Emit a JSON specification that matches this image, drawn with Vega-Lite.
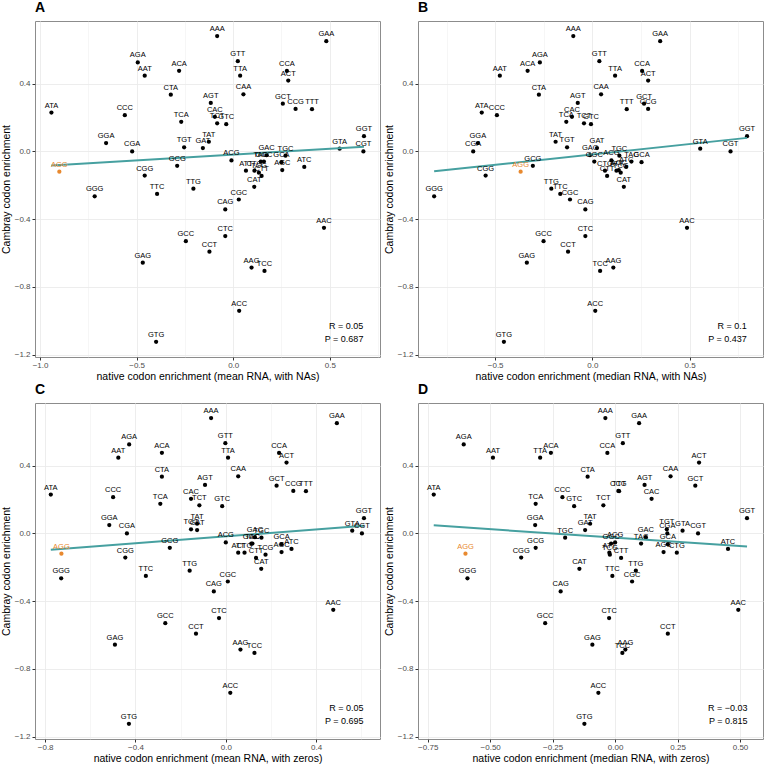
{
  "$schema": "https://vega.github.io/schema/vega-lite/v6.json",
  "padding": {"left": 0, "top": 0, "right": 0, "bottom": 0},
  "config": {
    "font": "Liberation Sans",
    "view": {"stroke": "#8c8c8c", "strokeWidth": 1},
    "axis": {"domain": false, "gridColor": "#ebebeb", "tickColor": "#333333", "tickSize": 3, "labelColor": "#4d4d4d", "labelFontSize": 8, "labelPadding": 2, "titleFontSize": 10.5, "titleFontWeight": "normal", "titleColor": "#000000", "titlePadding": 3},
    "axisX": {"labelPadding": 1, "titlePadding": 2},
    "title": {"fontSize": 14, "fontWeight": "bold", "anchor": "start", "frame": "group", "offset": 6}
  },
  "datasets": {
    "codons": [
      {"codon": "AAA", "cambray": 0.681, "mean_na": -0.083, "median_na": -0.098, "mean_zero": -0.065, "median_zero": -0.039},
      {"codon": "GAA", "cambray": 0.651, "mean_na": 0.482, "median_na": 0.349, "mean_zero": 0.492, "median_zero": 0.096},
      {"codon": "AGA", "cambray": 0.525, "mean_na": -0.494, "median_na": -0.27, "mean_zero": -0.428, "median_zero": -0.606},
      {"codon": "AAT", "cambray": 0.447, "mean_na": -0.458, "median_na": -0.476, "mean_zero": -0.476, "median_zero": -0.489},
      {"codon": "ACA", "cambray": 0.476, "mean_na": -0.28, "median_na": -0.333, "mean_zero": -0.283, "median_zero": -0.257},
      {"codon": "GTT", "cambray": 0.533, "mean_na": 0.024, "median_na": 0.036, "mean_zero": -0.002, "median_zero": 0.031},
      {"codon": "TTA", "cambray": 0.447, "mean_na": 0.036, "median_na": 0.117, "mean_zero": 0.01, "median_zero": -0.3},
      {"codon": "CCA", "cambray": 0.475, "mean_na": 0.278, "median_na": 0.256, "mean_zero": 0.236, "median_zero": -0.031},
      {"codon": "ACT", "cambray": 0.418, "mean_na": 0.285, "median_na": 0.287, "mean_zero": 0.269, "median_zero": 0.336},
      {"codon": "CTA", "cambray": 0.335, "mean_na": -0.323, "median_na": -0.275, "mean_zero": -0.283, "median_zero": -0.11},
      {"codon": "CAA", "cambray": 0.337, "mean_na": 0.053, "median_na": 0.045, "mean_zero": 0.055, "median_zero": 0.222},
      {"codon": "AGT", "cambray": 0.286, "mean_na": -0.116, "median_na": -0.075, "mean_zero": -0.092, "median_zero": 0.118},
      {"codon": "GCT", "cambray": 0.282, "mean_na": 0.257, "median_na": 0.266, "mean_zero": 0.225, "median_zero": 0.321},
      {"codon": "TTT", "cambray": 0.249, "mean_na": 0.408, "median_na": 0.177, "mean_zero": 0.355, "median_zero": 0.016},
      {"codon": "CCG", "cambray": 0.251, "mean_na": 0.323, "median_na": 0.287, "mean_zero": 0.299, "median_zero": 0.013},
      {"codon": "ATA", "cambray": 0.229, "mean_na": -0.941, "median_na": -0.569, "mean_zero": -0.775, "median_zero": -0.726},
      {"codon": "CCC", "cambray": 0.214, "mean_na": -0.561, "median_na": -0.491, "mean_zero": -0.499, "median_zero": -0.211},
      {"codon": "CAC", "cambray": 0.204, "mean_na": -0.095, "median_na": -0.105, "mean_zero": -0.154, "median_zero": 0.146},
      {"codon": "TCA", "cambray": 0.175, "mean_na": -0.269, "median_na": -0.134, "mean_zero": -0.29, "median_zero": -0.318},
      {"codon": "TCT", "cambray": 0.166, "mean_na": -0.083, "median_na": -0.043, "mean_zero": -0.117, "median_zero": -0.047},
      {"codon": "GTC", "cambray": 0.161, "mean_na": -0.036, "median_na": -0.007, "mean_zero": -0.016, "median_zero": -0.164},
      {"codon": "GGA", "cambray": 0.049, "mean_na": -0.658, "median_na": -0.589, "mean_zero": -0.516, "median_zero": -0.32},
      {"codon": "CGA", "cambray": 0.0, "mean_na": -0.523, "median_na": -0.613, "mean_zero": -0.438, "median_zero": 0.209},
      {"codon": "TGT", "cambray": 0.024, "mean_na": -0.254, "median_na": -0.13, "mean_zero": -0.154, "median_zero": 0.207},
      {"codon": "TAT", "cambray": 0.057, "mean_na": -0.126, "median_na": -0.189, "mean_zero": -0.127, "median_zero": -0.1},
      {"codon": "GAT", "cambray": 0.02, "mean_na": -0.157, "median_na": 0.024, "mean_zero": -0.127, "median_zero": -0.12},
      {"codon": "ACG", "cambray": -0.053, "mean_na": -0.009, "median_na": 0.098, "mean_zero": 0.0, "median_zero": 0.0},
      {"codon": "GAC", "cambray": -0.022, "mean_na": 0.173, "median_na": -0.012, "mean_zero": 0.129, "median_zero": 0.123},
      {"codon": "TGC", "cambray": -0.025, "mean_na": 0.271, "median_na": 0.139, "mean_zero": 0.158, "median_zero": -0.2},
      {"codon": "TAC", "cambray": -0.06, "mean_na": 0.143, "median_na": 0.201, "mean_zero": 0.118, "median_zero": 0.104},
      {"codon": "GCA", "cambray": -0.064, "mean_na": 0.25, "median_na": 0.253, "mean_zero": 0.247, "median_zero": 0.211},
      {"codon": "GGC", "cambray": -0.06, "mean_na": 0.159, "median_na": 0.01, "mean_zero": 0.113, "median_zero": -0.016},
      {"codon": "GTA", "cambray": 0.016, "mean_na": 0.551, "median_na": 0.555, "mean_zero": 0.56, "median_zero": 0.27},
      {"codon": "GGT", "cambray": 0.09, "mean_na": 0.677, "median_na": 0.796, "mean_zero": 0.612, "median_zero": 0.528},
      {"codon": "CGT", "cambray": 0.0, "mean_na": 0.674, "median_na": 0.711, "mean_zero": 0.603, "median_zero": 0.332},
      {"codon": "ATC", "cambray": -0.092, "mean_na": 0.368, "median_na": 0.174, "mean_zero": 0.291, "median_zero": 0.452},
      {"codon": "AGG", "cambray": -0.12, "mean_na": -0.9, "median_na": -0.369, "mean_zero": -0.728, "median_zero": -0.599},
      {"codon": "CGG", "cambray": -0.143, "mean_na": -0.458, "median_na": -0.549, "mean_zero": -0.445, "median_zero": -0.376},
      {"codon": "GCG", "cambray": -0.085, "mean_na": -0.29, "median_na": -0.306, "mean_zero": -0.248, "median_zero": -0.318},
      {"codon": "CTG", "cambray": -0.114, "mean_na": 0.11, "median_na": 0.065, "mean_zero": 0.083, "median_zero": 0.247},
      {"codon": "ATT", "cambray": -0.114, "mean_na": 0.066, "median_na": 0.124, "mean_zero": 0.055, "median_zero": -0.023},
      {"codon": "AGC", "cambray": -0.11, "mean_na": 0.254, "median_na": 0.136, "mean_zero": 0.247, "median_zero": 0.194},
      {"codon": "TCG", "cambray": -0.126, "mean_na": 0.133, "median_na": 0.146, "mean_zero": 0.176, "median_zero": -0.021},
      {"codon": "CTT", "cambray": -0.145, "mean_na": 0.147, "median_na": 0.076, "mean_zero": 0.134, "median_zero": 0.024},
      {"codon": "CAT", "cambray": -0.209, "mean_na": 0.109, "median_na": 0.162, "mean_zero": 0.157, "median_zero": -0.143},
      {"codon": "CGC", "cambray": -0.284, "mean_na": 0.029, "median_na": -0.115, "mean_zero": 0.009, "median_zero": 0.068},
      {"codon": "CAG", "cambray": -0.343, "mean_na": -0.041, "median_na": -0.036, "mean_zero": -0.053, "median_zero": -0.218},
      {"codon": "TTC", "cambray": -0.251, "mean_na": -0.394, "median_na": -0.165, "mean_zero": -0.354, "median_zero": -0.011},
      {"codon": "TTG", "cambray": -0.22, "mean_na": -0.206, "median_na": -0.211, "mean_zero": -0.16, "median_zero": 0.083},
      {"codon": "GGG", "cambray": -0.265, "mean_na": -0.717, "median_na": -0.814, "mean_zero": -0.729, "median_zero": -0.591},
      {"codon": "AAC", "cambray": -0.451, "mean_na": 0.47, "median_na": 0.487, "mean_zero": 0.476, "median_zero": 0.493},
      {"codon": "GCC", "cambray": -0.53, "mean_na": -0.245, "median_na": -0.251, "mean_zero": -0.268, "median_zero": -0.28},
      {"codon": "CTC", "cambray": -0.5, "mean_na": -0.041, "median_na": -0.036, "mean_zero": -0.03, "median_zero": -0.024},
      {"codon": "CCT", "cambray": -0.592, "mean_na": -0.123, "median_na": -0.125, "mean_zero": -0.132, "median_zero": 0.211},
      {"codon": "GAG", "cambray": -0.657, "mean_na": -0.468, "median_na": -0.337, "mean_zero": -0.491, "median_zero": -0.091},
      {"codon": "AAG", "cambray": -0.686, "mean_na": 0.095, "median_na": 0.108, "mean_zero": 0.065, "median_zero": 0.041},
      {"codon": "TCC", "cambray": -0.706, "mean_na": 0.162, "median_na": 0.04, "mean_zero": 0.127, "median_zero": 0.029},
      {"codon": "ACC", "cambray": -0.941, "mean_na": 0.031, "median_na": 0.015, "mean_zero": 0.02, "median_zero": -0.067},
      {"codon": "GTG", "cambray": -1.124, "mean_na": -0.399, "median_na": -0.455, "mean_zero": -0.429, "median_zero": -0.123}
    ]
  },
  "columns": 2,
  "bounds": "flush",
  "spacing": {"row": 46, "column": 38},
  "concat": [
    {
      "title": {"text": "A"},
      "width": 345, "height": 336,
      "data": {"name": "codons"},
      "layer": [
        {
          "mark": {"type": "circle", "size": 18, "opacity": 1},
          "encoding": {
            "x": {"field": "mean_na", "type": "quantitative", "scale": {"domain": [-1.026, 0.76], "nice": false, "zero": false},
              "axis": {"title": "native codon enrichment (mean RNA, with NAs)", "values": [-1, -0.75, -0.5, -0.25, 0, 0.25, 0.5, 0.75], "format": ".1f",
                "labelExpr": "abs(datum.value*2-round(datum.value*2))<1e-6 ? datum.label : ''",
                "tickOpacity": {"condition": {"test": "abs(datum.value*2-round(datum.value*2))<1e-6", "value": 1}, "value": 0},
                "gridWidth": {"condition": {"test": "abs(datum.value*2-round(datum.value*2))<1e-6", "value": 0.9}, "value": 0.45}}},
            "y": {"field": "cambray", "type": "quantitative", "scale": {"domain": [-1.214, 0.77], "nice": false, "zero": false},
              "axis": {"title": "Cambray codon enrichment", "values": [-1.2, -1.0, -0.8, -0.6, -0.4, -0.2, 0, 0.2, 0.4, 0.6], "format": ".1f",
                "labelExpr": "abs(datum.value/0.4-round(datum.value/0.4))<1e-6 ? datum.label : ''",
                "tickOpacity": {"condition": {"test": "abs(datum.value/0.4-round(datum.value/0.4))<1e-6", "value": 1}, "value": 0},
                "gridWidth": {"condition": {"test": "abs(datum.value/0.4-round(datum.value/0.4))<1e-6", "value": 0.9}, "value": 0.45}}},
            "color": {"condition": {"test": "datum.codon === 'AGG'", "value": "#e8892f"}, "value": "#000000"}
          }
        },
        {
          "transform": [{"regression": "cambray", "on": "mean_na"}],
          "mark": {"type": "line", "color": "#46a0a0", "strokeWidth": 2},
          "encoding": {"x": {"field": "mean_na", "type": "quantitative"}, "y": {"field": "cambray", "type": "quantitative"}}
        },
        {
          "mark": {"type": "text", "fontSize": 7.5, "dy": -7},
          "encoding": {
            "x": {"field": "mean_na", "type": "quantitative"}, "y": {"field": "cambray", "type": "quantitative"},
            "text": {"field": "codon"},
            "color": {"condition": {"test": "datum.codon === 'AGG'", "value": "#e8892f"}, "value": "#000000"}
          }
        },
        {
          "data": {"values": [{"stat": "R"}]},
          "mark": {"type": "text", "fontSize": 9, "align": "right", "baseline": "middle"},
          "encoding": {"x": {"datum": 0.674}, "y": {"datum": -1.03}, "text": {"value": "R = 0.05"}}
        },
        {
          "data": {"values": [{"stat": "P"}]},
          "mark": {"type": "text", "fontSize": 9, "align": "right", "baseline": "middle"},
          "encoding": {"x": {"datum": 0.674}, "y": {"datum": -1.106}, "text": {"value": "P = 0.687"}}
        }
      ]
    },
    {
      "title": {"text": "B"},
      "width": 345, "height": 336,
      "data": {"name": "codons"},
      "layer": [
        {
          "mark": {"type": "circle", "size": 18, "opacity": 1},
          "encoding": {
            "x": {"field": "median_na", "type": "quantitative", "scale": {"domain": [-0.897, 0.878], "nice": false, "zero": false},
              "axis": {"title": "native codon enrichment (median RNA, with NAs)", "values": [-0.75, -0.5, -0.25, 0, 0.25, 0.5, 0.75], "format": ".1f",
                "labelExpr": "abs(datum.value*2-round(datum.value*2))<1e-6 ? datum.label : ''",
                "tickOpacity": {"condition": {"test": "abs(datum.value*2-round(datum.value*2))<1e-6", "value": 1}, "value": 0},
                "gridWidth": {"condition": {"test": "abs(datum.value*2-round(datum.value*2))<1e-6", "value": 0.9}, "value": 0.45}}},
            "y": {"field": "cambray", "type": "quantitative", "scale": {"domain": [-1.214, 0.77], "nice": false, "zero": false},
              "axis": {"title": "Cambray codon enrichment", "values": [-1.2, -1.0, -0.8, -0.6, -0.4, -0.2, 0, 0.2, 0.4, 0.6], "format": ".1f",
                "labelExpr": "abs(datum.value/0.4-round(datum.value/0.4))<1e-6 ? datum.label : ''",
                "tickOpacity": {"condition": {"test": "abs(datum.value/0.4-round(datum.value/0.4))<1e-6", "value": 1}, "value": 0},
                "gridWidth": {"condition": {"test": "abs(datum.value/0.4-round(datum.value/0.4))<1e-6", "value": 0.9}, "value": 0.45}}},
            "color": {"condition": {"test": "datum.codon === 'AGG'", "value": "#e8892f"}, "value": "#000000"}
          }
        },
        {
          "transform": [{"regression": "cambray", "on": "median_na"}],
          "mark": {"type": "line", "color": "#46a0a0", "strokeWidth": 2},
          "encoding": {"x": {"field": "median_na", "type": "quantitative"}, "y": {"field": "cambray", "type": "quantitative"}}
        },
        {
          "mark": {"type": "text", "fontSize": 7.5, "dy": -7},
          "encoding": {
            "x": {"field": "median_na", "type": "quantitative"}, "y": {"field": "cambray", "type": "quantitative"},
            "text": {"field": "codon"},
            "color": {"condition": {"test": "datum.codon === 'AGG'", "value": "#e8892f"}, "value": "#000000"}
          }
        },
        {
          "data": {"values": [{"stat": "R"}]},
          "mark": {"type": "text", "fontSize": 9, "align": "right", "baseline": "middle"},
          "encoding": {"x": {"datum": 0.795}, "y": {"datum": -1.03}, "text": {"value": "R = 0.1"}}
        },
        {
          "data": {"values": [{"stat": "P"}]},
          "mark": {"type": "text", "fontSize": 9, "align": "right", "baseline": "middle"},
          "encoding": {"x": {"datum": 0.795}, "y": {"datum": -1.106}, "text": {"value": "P = 0.437"}}
        }
      ]
    },
    {
      "title": {"text": "C"},
      "width": 345, "height": 336,
      "data": {"name": "codons"},
      "layer": [
        {
          "mark": {"type": "circle", "size": 18, "opacity": 1},
          "encoding": {
            "x": {"field": "mean_zero", "type": "quantitative", "scale": {"domain": [-0.845, 0.683], "nice": false, "zero": false},
              "axis": {"title": "native codon enrichment (mean RNA, with zeros)", "values": [-0.8, -0.6, -0.4, -0.2, 0, 0.2, 0.4, 0.6], "format": ".1f",
                "labelExpr": "abs(datum.value/0.4-round(datum.value/0.4))<1e-6 ? datum.label : ''",
                "tickOpacity": {"condition": {"test": "abs(datum.value/0.4-round(datum.value/0.4))<1e-6", "value": 1}, "value": 0},
                "gridWidth": {"condition": {"test": "abs(datum.value/0.4-round(datum.value/0.4))<1e-6", "value": 0.9}, "value": 0.45}}},
            "y": {"field": "cambray", "type": "quantitative", "scale": {"domain": [-1.214, 0.77], "nice": false, "zero": false},
              "axis": {"title": "Cambray codon enrichment", "values": [-1.2, -1.0, -0.8, -0.6, -0.4, -0.2, 0, 0.2, 0.4, 0.6], "format": ".1f",
                "labelExpr": "abs(datum.value/0.4-round(datum.value/0.4))<1e-6 ? datum.label : ''",
                "tickOpacity": {"condition": {"test": "abs(datum.value/0.4-round(datum.value/0.4))<1e-6", "value": 1}, "value": 0},
                "gridWidth": {"condition": {"test": "abs(datum.value/0.4-round(datum.value/0.4))<1e-6", "value": 0.9}, "value": 0.45}}},
            "color": {"condition": {"test": "datum.codon === 'AGG'", "value": "#e8892f"}, "value": "#000000"}
          }
        },
        {
          "transform": [{"regression": "cambray", "on": "mean_zero"}],
          "mark": {"type": "line", "color": "#46a0a0", "strokeWidth": 2},
          "encoding": {"x": {"field": "mean_zero", "type": "quantitative"}, "y": {"field": "cambray", "type": "quantitative"}}
        },
        {
          "mark": {"type": "text", "fontSize": 7.5, "dy": -7},
          "encoding": {
            "x": {"field": "mean_zero", "type": "quantitative"}, "y": {"field": "cambray", "type": "quantitative"},
            "text": {"field": "codon"},
            "color": {"condition": {"test": "datum.codon === 'AGG'", "value": "#e8892f"}, "value": "#000000"}
          }
        },
        {
          "data": {"values": [{"stat": "R"}]},
          "mark": {"type": "text", "fontSize": 9, "align": "right", "baseline": "middle"},
          "encoding": {"x": {"datum": 0.61}, "y": {"datum": -1.03}, "text": {"value": "R = 0.05"}}
        },
        {
          "data": {"values": [{"stat": "P"}]},
          "mark": {"type": "text", "fontSize": 9, "align": "right", "baseline": "middle"},
          "encoding": {"x": {"datum": 0.61}, "y": {"datum": -1.106}, "text": {"value": "P = 0.695"}}
        }
      ]
    },
    {
      "title": {"text": "D"},
      "width": 345, "height": 336,
      "data": {"name": "codons"},
      "layer": [
        {
          "mark": {"type": "circle", "size": 18, "opacity": 1},
          "encoding": {
            "x": {"field": "median_zero", "type": "quantitative", "scale": {"domain": [-0.789, 0.592], "nice": false, "zero": false},
              "axis": {"title": "native codon enrichment (median RNA, with zeros)", "values": [-0.75, -0.625, -0.5, -0.375, -0.25, -0.125, 0, 0.125, 0.25, 0.375, 0.5], "format": ".2f",
                "labelExpr": "abs(datum.value*4-round(datum.value*4))<1e-6 ? datum.label : ''",
                "tickOpacity": {"condition": {"test": "abs(datum.value*4-round(datum.value*4))<1e-6", "value": 1}, "value": 0},
                "gridWidth": {"condition": {"test": "abs(datum.value*4-round(datum.value*4))<1e-6", "value": 0.9}, "value": 0.45}}},
            "y": {"field": "cambray", "type": "quantitative", "scale": {"domain": [-1.214, 0.77], "nice": false, "zero": false},
              "axis": {"title": "Cambray codon enrichment", "values": [-1.2, -1.0, -0.8, -0.6, -0.4, -0.2, 0, 0.2, 0.4, 0.6], "format": ".1f",
                "labelExpr": "abs(datum.value/0.4-round(datum.value/0.4))<1e-6 ? datum.label : ''",
                "tickOpacity": {"condition": {"test": "abs(datum.value/0.4-round(datum.value/0.4))<1e-6", "value": 1}, "value": 0},
                "gridWidth": {"condition": {"test": "abs(datum.value/0.4-round(datum.value/0.4))<1e-6", "value": 0.9}, "value": 0.45}}},
            "color": {"condition": {"test": "datum.codon === 'AGG'", "value": "#e8892f"}, "value": "#000000"}
          }
        },
        {
          "transform": [{"regression": "cambray", "on": "median_zero"}],
          "mark": {"type": "line", "color": "#46a0a0", "strokeWidth": 2},
          "encoding": {"x": {"field": "median_zero", "type": "quantitative"}, "y": {"field": "cambray", "type": "quantitative"}}
        },
        {
          "mark": {"type": "text", "fontSize": 7.5, "dy": -7},
          "encoding": {
            "x": {"field": "median_zero", "type": "quantitative"}, "y": {"field": "cambray", "type": "quantitative"},
            "text": {"field": "codon"},
            "color": {"condition": {"test": "datum.codon === 'AGG'", "value": "#e8892f"}, "value": "#000000"}
          }
        },
        {
          "data": {"values": [{"stat": "R"}]},
          "mark": {"type": "text", "fontSize": 9, "align": "right", "baseline": "middle"},
          "encoding": {"x": {"datum": 0.53}, "y": {"datum": -1.03}, "text": {"value": "R = −0.03"}}
        },
        {
          "data": {"values": [{"stat": "P"}]},
          "mark": {"type": "text", "fontSize": 9, "align": "right", "baseline": "middle"},
          "encoding": {"x": {"datum": 0.53}, "y": {"datum": -1.106}, "text": {"value": "P = 0.815"}}
        }
      ]
    }
  ]
}
